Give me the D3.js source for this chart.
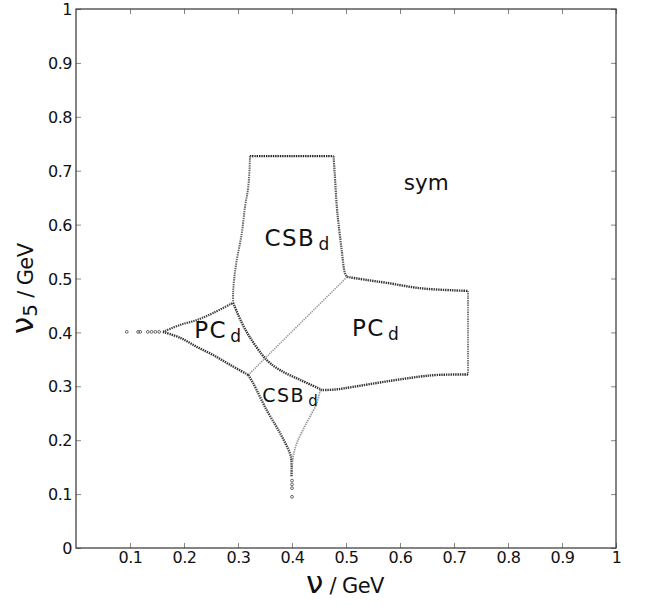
<!DOCTYPE html>
<html>
<head>
<meta charset="utf-8">
<script src="https://cdn.jsdelivr.net/npm/d3@7"></script>
<style>
  body { margin: 0; background: #fff; }
  svg { font-family: "DejaVu Sans", sans-serif; }
</style>
</head>
<body>
<svg id="chart" width="661" height="606"></svg>
<script>
// ---- data (v, v5) in GeV ----
const xTicks = [0.1,0.2,0.3,0.4,0.5,0.6,0.7,0.8,0.9,1];
const yTicks = [0,0.1,0.2,0.3,0.4,0.5,0.6,0.7,0.8,0.9,1];
const xTickLabels = ["0.1","0.2","0.3","0.4","0.5","0.6","0.7","0.8","0.9","1"];
const yTickLabels = ["0","0.1","0.2","0.3","0.4","0.5","0.6","0.7","0.8","0.9","1"];

const csbUpperTop = [[0.322,0.727],[0.400,0.727],[0.477,0.727]];
const csbUpperRight = [[0.477,0.727],[0.479,0.696],[0.483,0.633],[0.486,0.603],[0.492,0.553],[0.498,0.510],[0.502,0.503]];
const csbUpperLeft = [[0.322,0.727],[0.322,0.720],[0.319,0.670],[0.313,0.633],[0.307,0.584],[0.297,0.530],[0.293,0.500],[0.291,0.475],[0.291,0.455]];
const bigCurve = [[0.291,0.455],[0.306,0.420],[0.322,0.391],[0.353,0.349],[0.378,0.330],[0.415,0.312],[0.452,0.295]];
const pcRightTop = [[0.502,0.503],[0.540,0.497],[0.575,0.492],[0.637,0.482],[0.700,0.478],[0.726,0.477]];
const pcRightSide = [[0.726,0.477],[0.726,0.400],[0.726,0.322]];
const pcRightBottom = [[0.726,0.322],[0.668,0.321],[0.637,0.318],[0.575,0.309],[0.513,0.299],[0.480,0.294],[0.452,0.293]];
const diagonal = [[0.502,0.503],[0.319,0.321]];
const pcLeftUpper = [[0.161,0.401],[0.193,0.414],[0.224,0.423],[0.254,0.436],[0.291,0.455]];
const pcLeftLower = [[0.161,0.401],[0.193,0.390],[0.224,0.373],[0.254,0.358],[0.285,0.340],[0.319,0.321]];
const csbLowerLeft = [[0.319,0.321],[0.328,0.306],[0.353,0.256],[0.378,0.213],[0.396,0.176],[0.399,0.163],[0.399,0.132]];
const csbLowerRight = [[0.452,0.293],[0.446,0.269],[0.427,0.232],[0.409,0.195],[0.402,0.169],[0.400,0.145]];
const tipDotsLeft = [[0.094,0.401],[0.115,0.401],[0.119,0.401],[0.133,0.401],[0.140,0.401],[0.147,0.401],[0.154,0.401]];
const tipDotsBottom = [[0.400,0.125],[0.400,0.118],[0.400,0.111],[0.400,0.095]];

const regionLabels = [
  {text:"CSB", sub:"d", v:0.349, v5:0.56, size:23, subSize:17},
  {text:"PC", sub:"d", v:0.219, v5:0.39, size:23, subSize:17},
  {text:"PC", sub:"d", v:0.511, v5:0.393, size:23, subSize:17},
  {text:"CSB", sub:"d", v:0.345, v5:0.271, size:19, subSize:15},
  {text:"sym", sub:"", v:0.607, v5:0.664, size:21.5, subSize:15}
];

// ---- layout ----
const svg = d3.select("#chart");
const L = 76, R = 616, T = 9, B = 548;
const x = d3.scaleLinear().domain([0,1]).range([L,R]);
const y = d3.scaleLinear().domain([0,1]).range([B,T]);

// axes
const gx = svg.append("g").attr("transform",`translate(0,${B})`)
  .call(d3.axisBottom(x).tickValues(xTicks).tickSizeInner(-5).tickSizeOuter(0).tickPadding(4)
    .tickFormat((d,i)=>xTickLabels[i]));
const gy = svg.append("g").attr("transform",`translate(${L},0)`)
  .call(d3.axisLeft(y).tickValues(yTicks).tickSizeInner(-5).tickSizeOuter(0).tickPadding(4)
    .tickFormat((d,i)=>yTickLabels[i]));
const gxt = svg.append("g").attr("transform",`translate(0,${T})`)
  .call(d3.axisTop(x).tickValues(xTicks).tickSizeInner(-5).tickSizeOuter(0).tickFormat(""));
const gyr = svg.append("g").attr("transform",`translate(${R},0)`)
  .call(d3.axisRight(y).tickValues(yTicks).tickSizeInner(-5).tickSizeOuter(0).tickFormat(""));
[gx,gy,gxt,gyr].forEach(g=>{
  g.select(".domain").remove();
  g.selectAll(".tick line").attr("stroke","#888");
  g.selectAll(".tick text").attr("fill","#111").attr("font-size",16)
    .attr("font-family","DejaVu Sans").attr("letter-spacing","-0.5px");
});
gy.selectAll(".tick text").attr("dy","0.35em");

svg.append("rect").attr("x",L).attr("y",T).attr("width",R-L).attr("height",B-T)
  .attr("fill","none").attr("stroke","#333").attr("stroke-width",1.2);

// boundaries
const line = d3.line().x(d=>x(d[0])).y(d=>y(d[1])).curve(d3.curveCatmullRom);
const curves = [
  {d:csbUpperTop, c:"#222", w:2.4},
  {d:csbUpperRight, c:"#555", w:2.2},
  {d:csbUpperLeft, c:"#666", w:2.0},
  {d:bigCurve, c:"#333", w:2.4},
  {d:pcRightTop, c:"#333", w:2.4},
  {d:pcRightSide, c:"#777", w:2.0},
  {d:pcRightBottom, c:"#333", w:2.4},
  {d:diagonal, c:"#999", w:1.5},
  {d:pcLeftUpper, c:"#444", w:2.2},
  {d:pcLeftLower, c:"#333", w:2.4},
  {d:csbLowerLeft, c:"#444", w:2.4},
  {d:csbLowerRight, c:"#999", w:1.8}
];
svg.append("g").selectAll("path").data(curves).join("path")
  .attr("d",c=>line(c.d)).attr("fill","none").attr("stroke",c=>c.c)
  .attr("stroke-width",c=>c.w).attr("stroke-dasharray","1.4,0.9");

svg.append("g").selectAll("circle").data(tipDotsLeft.concat(tipDotsBottom)).join("circle")
  .attr("cx",d=>x(d[0])).attr("cy",d=>y(d[1])).attr("r",1.4)
  .attr("fill","none").attr("stroke","#555").attr("stroke-width",0.9);

// region labels
regionLabels.forEach(l=>{
  const t = svg.append("text").attr("x",x(l.v)).attr("y",y(l.v5))
    .attr("font-size",l.size).attr("fill","#111");
  t.append("tspan").text(l.text).attr("letter-spacing", l.sub ? "1.5px" : "0");
  if (l.sub) t.append("tspan").text(l.sub).attr("font-size",l.subSize).attr("dx",3).attr("dy",4);
});

// axis titles
const xt = svg.append("text").attr("x",306).attr("y",593).attr("text-anchor","start").attr("fill","#111");
xt.append("tspan").text("ν").attr("font-size",31);
xt.append("tspan").text(" / GeV").attr("font-size",21).attr("letter-spacing","-0.6px");

const yt = svg.append("text").attr("transform","translate(33,334) rotate(-90)")
  .attr("text-anchor","start").attr("fill","#111");
yt.append("tspan").text("ν").attr("font-size",31);
yt.append("tspan").text("5").attr("font-size",20).attr("dy",4);
yt.append("tspan").text(" / GeV").attr("font-size",21).attr("dy",-4).attr("letter-spacing","-0.6px");
</script>
</body>
</html>
